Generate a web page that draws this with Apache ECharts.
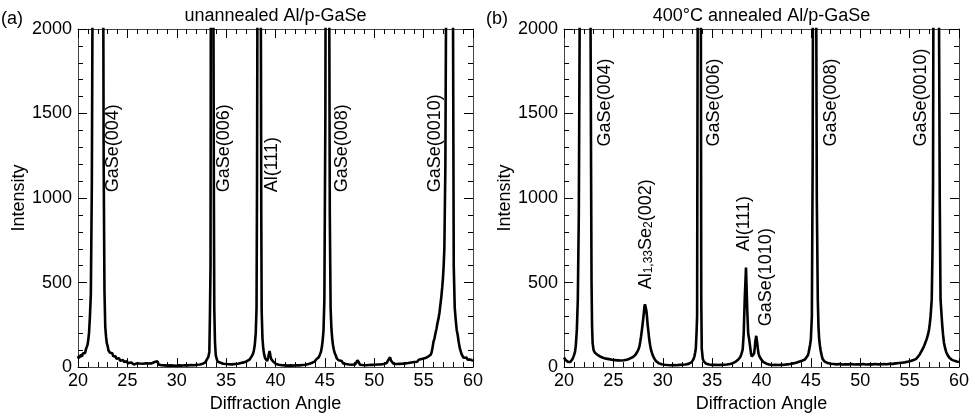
<!DOCTYPE html>
<html>
<head>
<meta charset="utf-8">
<script src="https://cdn.jsdelivr.net/npm/echarts@6/dist/echarts.min.js"></script>
<style>
  html, body { margin: 0; padding: 0; background: #fff; }
  #chart { width: 976px; height: 418px; }
</style>
</head>
<body>
<div id="chart"></div>
<script>
// XRD scans (2θ in degrees, intensity in counts); peaks run far off the 0–2000 window.
const angleUnannealed = [
  20.0, 20.08, 20.16, 20.24, 20.32, 20.4, 20.48, 20.56, 20.64, 20.72,
  20.8, 20.88, 20.96, 21.04, 21.12, 21.2, 21.3, 21.4, 21.5, 21.6,
  22.0, 22.4, 22.55, 22.6, 22.68, 22.76, 22.84, 22.92, 23.0, 23.08,
  23.16, 23.24, 23.32, 23.4, 23.48, 23.56, 23.64, 23.72, 23.8, 23.88,
  23.96, 24.06, 24.16, 24.26, 24.36, 24.46, 24.56, 24.66, 24.76, 24.86,
  24.96, 25.06, 25.16, 25.26, 25.36, 25.46, 25.56, 25.66, 25.76, 25.86,
  25.96, 26.1, 26.25, 26.4, 26.55, 26.7, 26.85, 27.0, 27.15, 27.3,
  27.45, 27.6, 27.75, 27.85, 27.95, 28.05, 28.15, 28.3, 28.45, 28.6,
  28.75, 28.9, 29.05, 29.2, 29.35, 29.5, 29.65, 29.8, 29.95, 30.1,
  30.25, 30.4, 30.55, 30.7, 30.85, 31.0, 31.15, 31.3, 31.45, 31.6,
  31.75, 31.9, 32.05, 32.2, 32.35, 32.5, 32.65, 32.8, 32.9, 33.0,
  33.1, 33.2, 33.3, 33.36, 33.42, 33.47, 33.6, 33.72, 33.76, 33.8,
  33.87, 33.95, 34.05, 34.15, 34.25, 34.35, 34.45, 34.55, 34.7, 34.85,
  35.0, 35.15, 35.3, 35.45, 35.6, 35.75, 35.9, 36.05, 36.2, 36.35,
  36.5, 36.65, 36.8, 36.95, 37.1, 37.25, 37.4, 37.55, 37.7, 37.8,
  37.9, 38.0, 38.08, 38.13, 38.18, 38.35, 38.52, 38.56, 38.6, 38.68,
  38.76, 38.85, 38.95, 39.05, 39.15, 39.25, 39.32, 39.4, 39.48, 39.56,
  39.65, 39.75, 39.85, 39.95, 40.05, 40.2, 40.35, 40.5, 40.65, 40.8,
  40.95, 41.1, 41.25, 41.4, 41.55, 41.7, 41.85, 42.0, 42.15, 42.3,
  42.45, 42.6, 42.75, 42.9, 43.05, 43.2, 43.35, 43.5, 43.65, 43.8,
  43.95, 44.1, 44.25, 44.4, 44.5, 44.6, 44.7, 44.78, 44.86, 44.95,
  45.05, 45.1, 45.3, 45.45, 45.5, 45.58, 45.66, 45.74, 45.82, 45.9,
  46.0, 46.1, 46.2, 46.3, 46.4, 46.5, 46.6, 46.7, 46.85, 47.0,
  47.15, 47.3, 47.45, 47.6, 47.75, 47.9, 48.05, 48.2, 48.3, 48.38,
  48.46, 48.55, 48.7, 48.85, 49.0, 49.15, 49.3, 49.45, 49.6, 49.75,
  49.9, 50.05, 50.2, 50.35, 50.5, 50.65, 50.8, 50.95, 51.1, 51.25,
  51.4, 51.5, 51.6, 51.7, 51.8, 51.95, 52.1, 52.25, 52.4, 52.55,
  52.7, 52.85, 53.0, 53.15, 53.3, 53.45, 53.6, 53.75, 53.9, 54.05,
  54.2, 54.35, 54.5, 54.65, 54.8, 54.95, 55.1, 55.25, 55.4, 55.55,
  55.7, 55.8, 55.9, 56.0, 56.1, 56.2, 56.3, 56.4, 56.5, 56.6,
  56.7, 56.8, 56.88, 56.95, 57.03, 57.1, 57.2, 57.3, 57.6, 57.98,
  58.05, 58.15, 58.25, 58.35, 58.45, 58.55, 58.65, 58.75, 58.85, 58.95,
  59.05, 59.15, 59.25, 59.35, 59.45, 59.55, 59.65, 59.75, 59.85, 59.95,
  60.0
];
const intensityUnannealed = [
  65, 52, 70, 58, 75, 62, 80, 72, 88, 84,
  105, 118, 130, 160, 205, 290, 430, 1070, 2600, 5000,
  9000, 6000, 2400, 1200, 450, 240, 180, 140, 125, 100,
  108, 85, 92, 74, 82, 64, 72, 56, 64, 50,
  58, 44, 52, 38, 46, 34, 42, 30, 38, 26,
  34, 22, 30, 20, 28, 17, 26, 15, 24, 14,
  22, 13, 21, 12, 20, 13, 22, 14, 21, 12,
  22, 18, 30, 38, 28, 34, 16, 22, 11, 19,
  10, 18, 9, 17, 10, 18, 9, 16, 8, 17,
  10, 18, 9, 19, 11, 17, 10, 18, 12, 20,
  11, 19, 14, 22, 15, 25, 20, 30, 28, 40,
  38, 60, 90, 300, 600, 3000, 8000, 2000, 1000, 350,
  150, 70, 48, 32, 36, 22, 26, 15, 20, 11,
  18, 10, 17, 9, 16, 10, 18, 12, 20, 15,
  24, 18, 28, 24, 35, 32, 46, 50, 75, 95,
  130, 200, 350, 1100, 2400, 8000, 2000, 900, 330, 170,
  110, 75, 52, 44, 36, 55, 75, 95, 70, 48,
  38, 34, 25, 28, 18, 24, 14, 20, 11, 18,
  10, 17, 9, 16, 10, 17, 9, 16, 11, 18,
  10, 19, 12, 20, 14, 23, 18, 28, 24, 34,
  32, 44, 45, 60, 70, 90, 120, 160, 215, 400,
  1500, 3000, 9000, 2000, 900, 350, 230, 170, 130, 105,
  82, 70, 52, 56, 40, 44, 30, 36, 22, 30,
  18, 26, 15, 24, 14, 23, 16, 28, 40, 50,
  26, 14, 22, 12, 21, 11, 20, 12, 21, 13,
  22, 14, 23, 15, 24, 16, 26, 18, 28, 24,
  40, 50, 58, 38, 30, 20, 28, 18, 27, 19,
  30, 20, 31, 22, 33, 24, 35, 27, 38, 30,
  40, 32, 44, 36, 48, 42, 52, 48, 60, 58,
  72, 85, 115, 150, 170, 200, 225, 260, 285, 320,
  370, 420, 470, 520, 600, 700, 1180, 2500, 9000, 2000,
  600, 350, 280, 220, 190, 150, 115, 95, 75, 68,
  55, 62, 48, 56, 44, 50, 38, 45, 34, 40,
  36
];

const angleAnnealed = [
  20.0, 20.08, 20.16, 20.24, 20.32, 20.4, 20.48, 20.56, 20.64, 20.72,
  20.8, 20.88, 20.96, 21.04, 21.12, 21.2, 21.3, 21.4, 21.5, 21.62,
  21.8, 22.2, 22.6, 22.69, 22.74, 22.79, 22.84, 22.9, 23.0, 23.1,
  23.2, 23.35, 23.5, 23.65, 23.8, 23.95, 24.1, 24.25, 24.4, 24.55,
  24.7, 24.85, 25.0, 25.15, 25.3, 25.45, 25.6, 25.75, 25.9, 26.05,
  26.2, 26.35, 26.5, 26.65, 26.8, 26.95, 27.1, 27.2, 27.3, 27.4,
  27.5, 27.58, 27.65, 27.72, 27.8, 27.88, 27.95, 28.03, 28.1, 28.15,
  28.2, 28.25, 28.3, 28.35, 28.4, 28.47, 28.55, 28.64, 28.73, 28.82,
  28.9, 29.0, 29.1, 29.2, 29.3, 29.4, 29.5, 29.62, 29.75, 29.9,
  30.05, 30.2, 30.35, 30.5, 30.65, 30.8, 30.95, 31.1, 31.25, 31.4,
  31.55, 31.7, 31.85, 32.0, 32.15, 32.3, 32.45, 32.6, 32.75, 32.9,
  33.0, 33.1, 33.2, 33.28, 33.35, 33.42, 33.48, 33.55, 33.7, 33.85,
  33.9, 33.95, 34.05, 34.15, 34.25, 34.4, 34.55, 34.7, 34.85, 35.0,
  35.15, 35.3, 35.45, 35.6, 35.75, 35.9, 36.05, 36.2, 36.35, 36.5,
  36.65, 36.8, 36.95, 37.1, 37.25, 37.4, 37.55, 37.65, 37.75, 37.85,
  37.95, 38.03, 38.1, 38.2, 38.3, 38.43, 38.55, 38.65, 38.75, 38.85,
  38.95, 39.03, 39.1, 39.18, 39.25, 39.32, 39.37, 39.47, 39.57, 39.64,
  39.7, 39.78, 39.85, 39.95, 40.05, 40.2, 40.35, 40.5, 40.65, 40.8,
  40.95, 41.1, 41.25, 41.4, 41.55, 41.7, 41.85, 42.0, 42.15, 42.3,
  42.45, 42.6, 42.75, 42.9, 43.05, 43.2, 43.35, 43.5, 43.65, 43.8,
  43.95, 44.1, 44.2, 44.3, 44.4, 44.5, 44.6, 44.7, 44.78, 44.85,
  44.93, 45.0, 45.1, 45.18, 45.24, 45.35, 45.5, 45.6, 45.7, 45.77,
  45.84, 45.92, 46.0, 46.1, 46.19, 46.3, 46.4, 46.55, 46.7, 46.85,
  47.0, 47.15, 47.3, 47.45, 47.6, 47.75, 47.9, 48.05, 48.2, 48.35,
  48.5, 48.65, 48.8, 48.95, 49.1, 49.25, 49.4, 49.55, 49.7, 49.85,
  50.0, 50.15, 50.3, 50.45, 50.6, 50.75, 50.9, 51.05, 51.2, 51.35,
  51.5, 51.65, 51.8, 51.95, 52.1, 52.25, 52.4, 52.55, 52.7, 52.85,
  53.0, 53.15, 53.3, 53.45, 53.6, 53.75, 53.9, 54.05, 54.2, 54.35,
  54.5, 54.65, 54.8, 54.95, 55.1, 55.25, 55.4, 55.52, 55.63, 55.75,
  55.9, 56.05, 56.2, 56.35, 56.47, 56.6, 56.75, 56.87, 56.97, 57.05,
  57.12, 57.18, 57.24, 57.32, 57.37, 57.42, 57.7, 57.98, 58.05, 58.13,
  58.22, 58.3, 58.38, 58.47, 58.58, 58.7, 58.8, 58.9, 59.02, 59.15,
  59.3, 59.4, 59.55, 59.7, 59.85, 60.0
];
const intensityAnnealed = [
  57, 48, 42, 38, 34, 31, 33, 28, 30, 34,
  40, 50, 62, 75, 92, 130, 220, 400, 900, 2500,
  6000, 10000, 5000, 2000, 1200, 500, 250, 140, 100, 88,
  82, 74, 68, 63, 60, 55, 53, 50, 51, 47,
  48, 44, 45, 41, 43, 40, 42, 39, 42, 41,
  44, 44, 48, 50, 54, 58, 64, 70, 78, 88,
  100, 112, 126, 150, 180, 215, 250, 290, 330, 360,
  372, 360, 365, 330, 300, 250, 210, 160, 126, 100,
  85, 68, 55, 44, 36, 30, 26, 22, 19, 17,
  16, 14, 15, 12, 13, 11, 14, 12, 13, 11,
  14, 13, 15, 14, 16, 15, 18, 19, 22, 28,
  34, 45, 62, 85, 110, 200, 303, 2500, 9000, 2500,
  400, 110, 50, 34, 26, 20, 17, 15, 14, 13,
  12, 13, 11, 12, 11, 13, 12, 14, 13, 15,
  16, 18, 20, 23, 27, 33, 40, 45, 50, 60,
  75, 90, 106, 200, 400, 589, 350, 200, 165, 120,
  75, 62, 57, 65, 80, 115, 150, 185, 140, 105,
  80, 65, 55, 47, 40, 30, 24, 20, 17, 15,
  14, 12, 13, 14, 12, 12, 14, 13, 14, 14,
  15, 16, 17, 18, 20, 22, 24, 26, 29, 32,
  35, 38, 40, 42, 45, 47, 56, 70, 88, 110,
  135, 165, 300, 1200, 3000, 9000, 3000, 1000, 400, 240,
  165, 125, 95, 68, 47, 38, 32, 27, 24, 22,
  20, 19, 18, 17, 16, 17, 18, 16, 15, 17,
  17, 15, 16, 17, 18, 16, 15, 16, 17, 15,
  16, 17, 18, 16, 15, 17, 17, 15, 16, 18,
  18, 16, 16, 17, 17, 18, 18, 17, 17, 19,
  20, 19, 19, 21, 22, 23, 24, 25, 26, 27,
  28, 30, 32, 34, 36, 39, 42, 45, 47, 55,
  65, 78, 95, 110, 126, 145, 170, 195, 224, 260,
  300, 350, 402, 700, 1070, 2500, 10000, 2000, 1000, 402,
  320, 250, 195, 147, 115, 90, 76, 65, 55, 47,
  43, 40, 37, 35, 32, 30
];

// Reflection annotations: [anchor angle, anchor intensity, text]; text runs upward from the anchor.
const peakLabelsUnannealed = [
  [23.57, 1034, 'GaSe(004)'],
  [34.79, 1034, 'GaSe(006)'],
  [39.62, 1034, 'Al(111)'],
  [46.69, 1034, 'GaSe(008)'],
  [56.13, 1034, 'GaSe(0010)']
];
const peakLabelsAnnealed = [
  [24.11, 1305, 'GaSe(004)'],
  [35.23, 1305, 'GaSe(006)'],
  [47.03, 1305, 'GaSe(008)'],
  [56.13, 1305, 'GaSe(0010)'],
  [28.30, 460, 'Al{s|1,33}Se{s|2}(002)'],
  [38.26, 685, 'Al(111)'],
  [40.45, 242, 'GaSe(1010)']
];

const angleTicks = { min: 20, max: 60, interval: 5 };
const intensityTicks = { min: 0, max: 2000, interval: 500 };

const FONT = 'Liberation Sans, Arial, Helvetica, sans-serif';
const INK = '#000';
const FRAME = '#444';

function zip(xs, ys) { return xs.map((x, i) => [x, ys[i]]); }

function tickParts() {
  return {
    axisTick: { show: true, inside: true, length: 9, lineStyle: { color: INK, width: 1 } },
    minorTick: { show: true, splitNumber: 5, length: 5, lineStyle: { color: INK, width: 1 } },
    splitLine: { show: false },
    minorSplitLine: { show: false }
  };
}

function xAxes(gridIndex) {
  const base = () => Object.assign({
    type: 'value', gridIndex,
    min: angleTicks.min, max: angleTicks.max, interval: angleTicks.interval,
    axisLine: { show: true, onZero: false, lineStyle: { color: FRAME, width: 1 } }
  }, tickParts());
  return [
    Object.assign(base(), {
      position: 'bottom',
      axisLabel: { show: true, color: INK, fontFamily: FONT, fontSize: 18, margin: 5 },
      name: 'Diffraction Angle', nameLocation: 'middle', nameGap: 27,
      nameTextStyle: { color: INK, fontFamily: FONT, fontSize: 18 }
    }),
    Object.assign(base(), { position: 'top', axisLabel: { show: false } })
  ];
}

function yAxes(gridIndex) {
  const base = () => Object.assign({
    type: 'value', gridIndex,
    min: intensityTicks.min, max: intensityTicks.max, interval: intensityTicks.interval,
    axisLine: { show: true, onZero: false, lineStyle: { color: FRAME, width: 1 } }
  }, tickParts());
  return [
    Object.assign(base(), {
      position: 'left',
      axisLabel: { show: true, color: INK, fontFamily: FONT, fontSize: 18, margin: 6, formatter: v => String(v) },
      name: 'Intensity', nameLocation: 'middle', nameGap: 45,
      nameTextStyle: { color: INK, fontFamily: FONT, fontSize: 18 }
    }),
    Object.assign(base(), { position: 'right', axisLabel: { show: false } })
  ];
}

function scanSeries(data, axisBase) {
  return {
    type: 'line', xAxisIndex: axisBase, yAxisIndex: axisBase,
    data, showSymbol: false, symbol: 'none', clip: true,
    lineStyle: { color: INK, width: 2.6 }, silent: true
  };
}

function labelSeries(labels, axisBase) {
  return {
    type: 'scatter', xAxisIndex: axisBase, yAxisIndex: axisBase,
    data: labels, symbolSize: 0, silent: true,
    itemStyle: { opacity: 1 },
    label: {
      show: true, position: 'inside', rotate: 90, align: 'left', verticalAlign: 'middle',
      formatter: p => p.value[2],
      color: INK, opacity: 1, fontFamily: FONT, fontSize: 18, textBorderWidth: 0,
      rich: {
        s: { fontSize: 12, fontFamily: FONT, color: INK, verticalAlign: 'bottom', lineHeight: 12 }
      }
    }
  };
}

const chart = echarts.init(document.getElementById('chart'), null, { renderer: 'canvas' });
chart.setOption({
  animation: false,
  backgroundColor: '#fff',
  grid: [
    { left: 78, right: 503, top: 29, bottom: 50 },
    { left: 564, right: 17, top: 29, bottom: 50 }
  ],
  xAxis: [...xAxes(0), ...xAxes(1)],
  yAxis: [...yAxes(0), ...yAxes(1)],
  graphic: [
    { type: 'text', x: 1, y: 19, style: { text: '(a)', fill: INK, font: '18px ' + FONT, verticalAlign: 'middle', align: 'left' } },
    { type: 'text', x: 486, y: 19, style: { text: '(b)', fill: INK, font: '18px ' + FONT, verticalAlign: 'middle', align: 'left' } },
    { type: 'text', x: 275.5, y: 16, style: { text: 'unannealed Al/p-GaSe', fill: INK, font: '18px ' + FONT, verticalAlign: 'middle', align: 'center' } },
    { type: 'text', x: 761.5, y: 16, style: { text: '400°C annealed Al/p-GaSe', fill: INK, font: '18px ' + FONT, verticalAlign: 'middle', align: 'center' } }
  ],
  series: [
    scanSeries(zip(angleUnannealed, intensityUnannealed), 0),
    scanSeries(zip(angleAnnealed, intensityAnnealed), 2),
    labelSeries(peakLabelsUnannealed, 0),
    labelSeries(peakLabelsAnnealed, 2)
  ]
});
</script>
</body>
</html>
